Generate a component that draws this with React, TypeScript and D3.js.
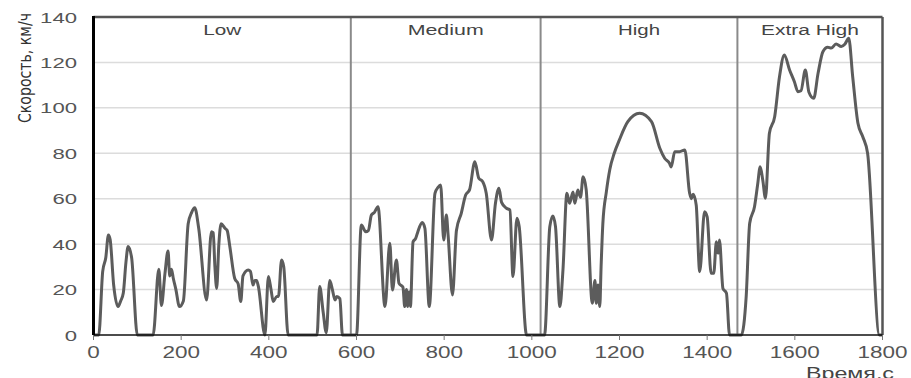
import React from "react";
import * as d3 from "d3";

const times: number[] = [
  0, 12, 21, 28, 34, 38, 46, 56, 62, 68, 74, 79, 87, 100, 136, 149, 155, 163, 170, 174, 178, 182, 188, 196, 205, 216, 224, 231, 240, 258, 269, 273, 277, 281, 286, 291, 300, 305, 311, 322, 330, 336, 341, 353, 358, 364, 368, 372, 376, 391, 399, 405, 410, 418, 422, 429, 434, 444, 510, 516, 524, 531, 539, 545, 551, 555, 562, 568, 600,
  611, 621, 627, 634, 641, 649, 665, 676, 682, 691, 697, 706, 710, 714, 717, 720, 723, 729, 735, 740, 750, 756, 766, 779, 786, 792, 799, 805, 809, 819, 828, 839, 849, 858, 870, 879, 888, 896, 908, 917, 925, 931, 942, 950, 957, 966, 971, 988, 1029,
  1041, 1048, 1054, 1064, 1071, 1080, 1086, 1094, 1098, 1105, 1111, 1117, 1124, 1138, 1144, 1147, 1151, 1155, 1158, 1162, 1170, 1178, 1188, 1200, 1219, 1246, 1273, 1292, 1303, 1314, 1318, 1326, 1337, 1349, 1360, 1364, 1368, 1375, 1383, 1394, 1400, 1409, 1415, 1421, 1425, 1428, 1436, 1444, 1451, 1478,
  1489, 1497, 1508, 1515, 1521, 1527, 1533, 1542, 1554, 1565, 1576, 1588, 1599, 1607, 1614, 1624, 1632, 1643, 1653, 1664, 1675, 1683, 1694, 1706, 1714, 1723, 1732, 1744, 1755, 1766, 1793, 1800,
];

const speeds: number[] = [
  0, 0, 28, 34, 44, 42, 22, 12.5, 15, 18.5, 32, 39, 34, 0, 0, 29, 13, 27, 37, 26, 29, 25, 20, 12.5, 15, 49, 54, 56, 47, 15.4, 45.5, 45, 30, 20.5, 40, 49, 47, 46, 39, 25, 22.5, 14.7, 26, 28.6, 28, 22, 24, 24, 21.5, 0, 25.7, 20, 14.7, 17, 17, 33, 30, 0, 0, 21.3, 10, 1, 24, 20, 15.4, 17, 16, 0, 0,
  48.4, 45.5, 46, 52.8, 54, 56.5, 12.5, 40.4, 19.8, 33, 22.7, 21, 12.5, 20, 12.5, 19, 12.5, 41, 42.5, 45.5, 49.5, 47, 12.5, 62.4, 65, 66, 41.8, 52.8, 44, 17.6, 46, 53.6, 61.6, 64, 76.3, 69, 67.5, 62.4, 41.8, 58, 64.6, 58.4, 55.8, 55, 25.7, 51.4, 48, 0, 0,
  47.7, 52.4, 47.7, 12.5, 28.6, 62.4, 58, 63, 58, 63.8, 60.6, 69.7, 64, 14, 24, 14, 22, 12.5, 30, 49, 63, 73, 80, 86, 93.9, 97.6, 93.9, 82.2, 77.8, 75.6, 74, 80.7, 80.7, 81.5, 62.4, 60, 62, 57.2, 27.9, 54.3, 52, 27.2, 27.2, 41, 36, 41.8, 20.5, 18.4, 0, 0,
  16.9, 49.2, 56.5, 66, 74.1, 68, 60.2, 88.8, 96.1, 113.7, 123.3, 116.7, 111.5, 107.1, 107.5, 116.7, 107, 104.2, 115.2, 124.7, 126.7, 126.3, 128.1, 127, 128, 130.6, 113.7, 93.2, 87.3, 80, 0, 0,
];

const phaseBounds: number[] = [0, 587, 1020, 1469, 1800];
const phaseNames: string[] = ["Low", "Medium", "High", "Extra High"];
const phaseLabelWidths: number[] = [38, 76, 42, 98];
const xTicks: number[] = [0, 200, 400, 600, 800, 1000, 1200, 1400, 1600, 1800];
const yTicks: number[] = [0, 20, 40, 60, 80, 100, 120, 140];
const yTitle = "Скорость, км/ч";
const xTitle = "Время,с";

export default function App() {
  const W = 911;
  const H = 378;
  const x = d3.scaleLinear().domain([0, 1800]).range([93.5, 882.5]);
  const y = d3.scaleLinear().domain([0, 140]).range([335, 17]);
  const data = times.map((t, i) => [t, speeds[i]] as [number, number]);
  const line = d3
    .line<[number, number]>()
    .x((d) => x(d[0]))
    .y((d) => y(d[1]))
    .curve(d3.curveMonotoneX);
  const font = "'Liberation Sans', Arial, sans-serif";
  const digitW = 12.5;

  return (
    <svg
      width={W}
      height={H}
      style={{ position: "absolute", left: 0, top: 0, background: "#fff" }}
    >
      {yTicks
        .filter((v) => v > 0 && v < 140)
        .map((v) => (
          <line key={"g" + v} x1={x(0)} x2={x(1800)} y1={y(v)} y2={y(v)} stroke="#dcdcdc" strokeWidth={1.5} />
        ))}
      {phaseBounds.slice(1, -1).map((b) => (
        <line key={"p" + b} x1={x(b)} x2={x(b)} y1={y(140)} y2={y(0)} stroke="#8a8a8a" strokeWidth={2} />
      ))}
      <path d={line(data) || ""} fill="none" stroke="#5c5c5c" strokeWidth={3} strokeLinejoin="round" />
      {/* borders */}
      <line x1={x(0)} x2={x(1800)} y1={y(140)} y2={y(140)} stroke="#555" strokeWidth={2.5} />
      <line x1={x(1800)} x2={x(1800)} y1={y(140)} y2={y(0)} stroke="#555" strokeWidth={2.5} />
      <line x1={x(0)} x2={x(1800)} y1={y(0)} y2={y(0)} stroke="#111" strokeWidth={1.5} />
      <line x1={x(0)} x2={x(0)} y1={y(140) - 1} y2={y(0)} stroke="#000" strokeWidth={3} />
      {xTicks.map((t) => (
        <g key={"xt" + t}>
          <line x1={x(t)} x2={x(t)} y1={y(0)} y2={y(0) + 5} stroke="#777" strokeWidth={1} />
          <text
            x={x(t)}
            y={358}
            textAnchor="middle"
            fontFamily={font}
            fontSize={16}
            fill="#555"
            textLength={String(t).length * digitW}
            lengthAdjust="spacingAndGlyphs"
          >
            {t}
          </text>
        </g>
      ))}
      {yTicks.map((v) => (
        <text
          key={"yt" + v}
          x={77}
          y={y(v) + 5.5}
          textAnchor="end"
          fontFamily={font}
          fontSize={15}
          fill="#555"
          textLength={String(v).length * 12.3}
          lengthAdjust="spacingAndGlyphs"
        >
          {v}
        </text>
      ))}
      {phaseNames.map((n, i) => (
        <text
          key={"pn" + n}
          x={x((phaseBounds[i] + phaseBounds[i + 1]) / 2)}
          y={35}
          textAnchor="middle"
          fontFamily={font}
          fontSize={14}
          fill="#444"
          textLength={phaseLabelWidths[i]}
          lengthAdjust="spacingAndGlyphs"
        >
          {n}
        </text>
      ))}
      <text
        transform="translate(31,68) rotate(-90)"
        textAnchor="middle"
        fontFamily="'Liberation Sans Narrow', 'DejaVu Sans Condensed', 'Liberation Sans', sans-serif"
        fontSize={18}
        fill="#333"
        textLength={110}
        lengthAdjust="spacingAndGlyphs"
      >
        {yTitle}
      </text>
      <text
        x={894}
        y={379}
        textAnchor="end"
        fontFamily={font}
        fontSize={17}
        fill="#444"
        textLength={88}
        lengthAdjust="spacingAndGlyphs"
      >
        {xTitle}
      </text>
    </svg>
  );
}
